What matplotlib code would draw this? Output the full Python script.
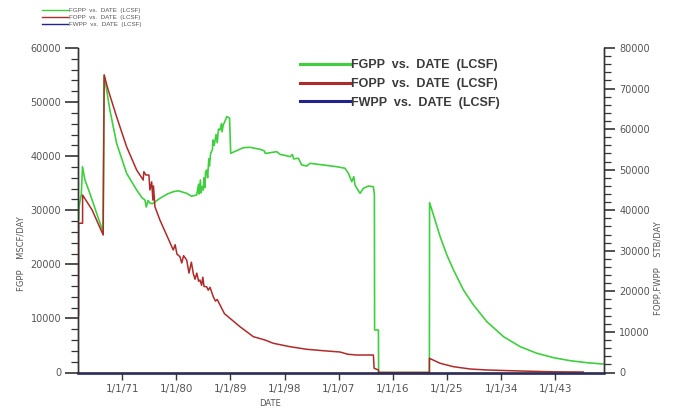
import matplotlib
matplotlib.use("Agg")
import matplotlib.pyplot as plt
import matplotlib.lines as mlines
from matplotlib.ticker import MultipleLocator

# ---- field rate data (decimal years) ----
fgpp_years = [1963.75, 1963.8, 1964.2, 1964.4, 1964.8, 1965.6, 1967.8, 1968.0,
              1968.95, 1970.07, 1971.73, 1973.4, 1974.3, 1974.78, 1975.0, 1975.3,
              1975.6, 1976.0, 1977.27, 1978.5, 1979.49, 1980.3, 1981.72, 1982.5,
              1983.38, 1983.7, 1983.8, 1984.0, 1984.1, 1984.3, 1984.48, 1984.6,
              1984.75, 1984.85, 1985.04, 1985.2, 1985.4, 1985.5, 1985.7, 1986.0,
              1986.1, 1986.3, 1986.6, 1986.8, 1987.0, 1987.26, 1987.5, 1987.6,
              1987.8, 1988.1, 1988.37, 1988.84, 1989.04, 1991.13, 1992.25, 1993.91,
              1994.6, 1994.8, 1995.58, 1996.69, 1997.3, 1997.79, 1998.9, 1999.3,
              1999.5, 2000.28, 2000.85, 2001.68, 2002.23, 2004.44, 2006.67, 2008.05,
              2008.6, 2009.17, 2009.5, 2009.7, 2010.0, 2010.55, 2011.1, 2011.93,
              2012.76, 2012.93, 2012.96, 2013.6, 2013.63, 2022.07, 2022.1, 2022.75,
              2023.86, 2024.98, 2026.08, 2027.74, 2029.4, 2031.63, 2034.4, 2037.17,
              2039.95, 2042.71, 2045.49, 2048.27, 2050.93]
fgpp = [28200, 30500, 33000, 38050, 35600, 33190, 26030, 55010,
        48540, 42380, 36830, 33740, 32300, 31900, 30600, 31800,
        31340, 31200, 32210, 33000, 33430, 33600, 33130, 32600,
        32820, 34800, 33000, 35600, 33200, 34400, 33740, 36000,
        34200, 37000, 37440, 36000, 39500, 38200, 40500, 41200,
        43000, 42000, 44000, 42500, 45000, 44840, 46000, 44500,
        45800, 46500, 47300, 47060, 40530, 41570, 41640, 41270,
        41000, 40500, 40640, 40830, 40300, 40220, 39900, 40300,
        39500, 39610, 38370, 38180, 38680, 38370, 38050, 37760,
        36830, 35280, 36200, 34700, 34060, 33130, 34060, 34480,
        34350, 32820, 7860, 7860, 0, 0, 31400, 29120,
        25110, 21730, 18950, 15250, 12480, 9390, 6620, 4770,
        3550, 2740, 2180, 1810, 1570]

fopp_years = [1963.74, 1963.76, 1964.41, 1964.42, 1966.0, 1967.84, 1968.0, 1968.67,
              1970.07, 1971.73, 1973.4, 1974.49, 1974.6, 1974.94, 1975.44, 1975.61,
              1975.9, 1976.1, 1976.2, 1976.44, 1977.27, 1978.38, 1979.49, 1979.8,
              1980.1, 1980.6, 1980.9, 1981.2, 1981.72, 1982.1, 1982.5, 1982.81,
              1983.1, 1983.4, 1983.7, 1983.93, 1984.2, 1984.4, 1984.6, 1985.04,
              1985.3, 1985.6, 1986.14, 1986.5, 1986.8, 1987.54, 1988.0, 1988.92,
              1990.58, 1992.8, 1994.74, 1996.12, 1998.9, 2001.68, 2004.44, 2007.22,
              2008.5, 2010.0, 2012.76, 2012.88, 2013.6, 2013.63, 2022.07, 2022.08,
              2023.86, 2026.08, 2028.85, 2031.63, 2037.17, 2042.66, 2047.66]
fopp = [14200, 36800, 36800, 43750, 40060, 33890, 73330, 69640,
        63050, 55660, 49920, 47450, 49500, 48680, 48680, 44990,
        47000, 42500, 46000, 40870, 37590, 33900, 30200, 31500,
        29200, 28540, 27000, 28800, 27730, 24500, 27200, 24450,
        23000, 24500, 22500, 22800, 21500, 23500, 21200, 21150,
        20300, 21000, 18680, 17600, 18000, 15830, 14500, 13360,
        11290, 8830, 8010, 7200, 6360, 5720, 5370, 5050,
        4500, 4310, 4310, 1040, 620, 0, 0, 3500,
        2270, 1430, 860, 620, 370, 170, 120]

fwpp_years = [1963.7, 2051.1]
fwpp = [0, 0]

tick_years = [1971, 1980, 1989, 1998, 2007, 2016, 2025, 2034, 2043]
tick_labels = ["1/1/71", "1/1/80", "1/1/89", "1/1/98", "1/1/07",
               "1/1/16", "1/1/25", "1/1/34", "1/1/43"]

GREEN = "#3fcf3f"
RED = "#b02a2a"
BLUE = "#23238c"
TXT = "#555555"
AXC = "#333333"

fig = plt.figure(figsize=(6.8, 4.09), dpi=100)
ax1 = fig.add_axes([78.3 / 680, 1 - 372.5 / 409, (604 - 78.3) / 680, (372.5 - 48) / 409])
ax2 = ax1.twinx()

g_line, = ax1.plot(fgpp_years, fgpp, color=GREEN, lw=1.2)
r_line, = ax2.plot(fopp_years, fopp, color=RED, lw=1.1)
b_line, = ax2.plot(fwpp_years, fwpp, color=BLUE, lw=1.8, clip_on=False)

ax1.set_xlim(1963.7, 2051.1)
ax1.set_ylim(0, 60000)
ax2.set_ylim(0, 80000)

ax1.set_xticks(tick_years)
ax1.set_xticklabels(tick_labels)
ax1.tick_params(axis="x", direction="out", length=5, width=1, color=AXC,
                labelsize=7.5, labelcolor=TXT, pad=3)

ax1.yaxis.set_major_locator(MultipleLocator(10000))
ax1.yaxis.set_minor_locator(MultipleLocator(2000))
ax2.yaxis.set_major_locator(MultipleLocator(10000))
ax2.yaxis.set_minor_locator(MultipleLocator(2000))
for ax, maj_len in ((ax1, 9.3), (ax2, 8)):
    ax.tick_params(axis="y", which="major", direction="out", length=maj_len, width=1.2,
                   color=AXC, labelsize=7, labelcolor=TXT, pad=3)
    ax.tick_params(axis="y", which="minor", direction="out", length=5, width=0.9,
                   color=AXC)
    ax.spines["top"].set_visible(False)
    for s in ("left", "right", "bottom"):
        ax.spines[s].set_color(AXC)
        ax.spines[s].set_linewidth(1.0)

fig.text(21.5 / 680, 1 - 254 / 409, "FGPP    MSCF/DAY", rotation=90,
         ha="center", va="center", fontsize=6, color=TXT)
fig.text(658 / 680, 1 - 268 / 409, "FOPP,FWPP    STB/DAY", rotation=90,
         ha="center", va="center", fontsize=6, color=TXT)
fig.text(270 / 680, 1 - 404 / 409, "DATE", ha="center", va="center",
         fontsize=6, color=TXT)

names = ["FGPP  vs.  DATE  (LCSF)", "FOPP  vs.  DATE  (LCSF)", "FWPP  vs.  DATE  (LCSF)"]
handles = [g_line, r_line, b_line]

# large legend inside the plot
big_handles = [mlines.Line2D([], [], color=h.get_color(), lw=2.2) for h in handles]
leg = ax2.legend(big_handles, names, loc="upper left",
                 bbox_to_anchor=(300 / 680, 1 - 59 / 409), bbox_transform=fig.transFigure,
                 frameon=False, borderpad=0, borderaxespad=0, handlelength=4.0,
                 handletextpad=0.1, labelspacing=0.55,
                 prop={"family": "Liberation Sans", "size": 9, "weight": "bold"})
for t in leg.get_texts():
    t.set_color("#3a3a3a")

# small legend at the top left of the figure
small_handles = [mlines.Line2D([], [], color=h.get_color(), lw=1.0) for h in handles]
fig.legend(small_handles, names, loc="upper left",
           bbox_to_anchor=(41.5 / 680, 1 - 8 / 409), frameon=False, borderpad=0,
           borderaxespad=0, handlelength=4.3, handletextpad=0.1, labelspacing=0.25,
           prop={"family": "Liberation Sans", "size": 4.5}, labelcolor=TXT)

fig.savefig("out.png", dpi=100, facecolor="white")
